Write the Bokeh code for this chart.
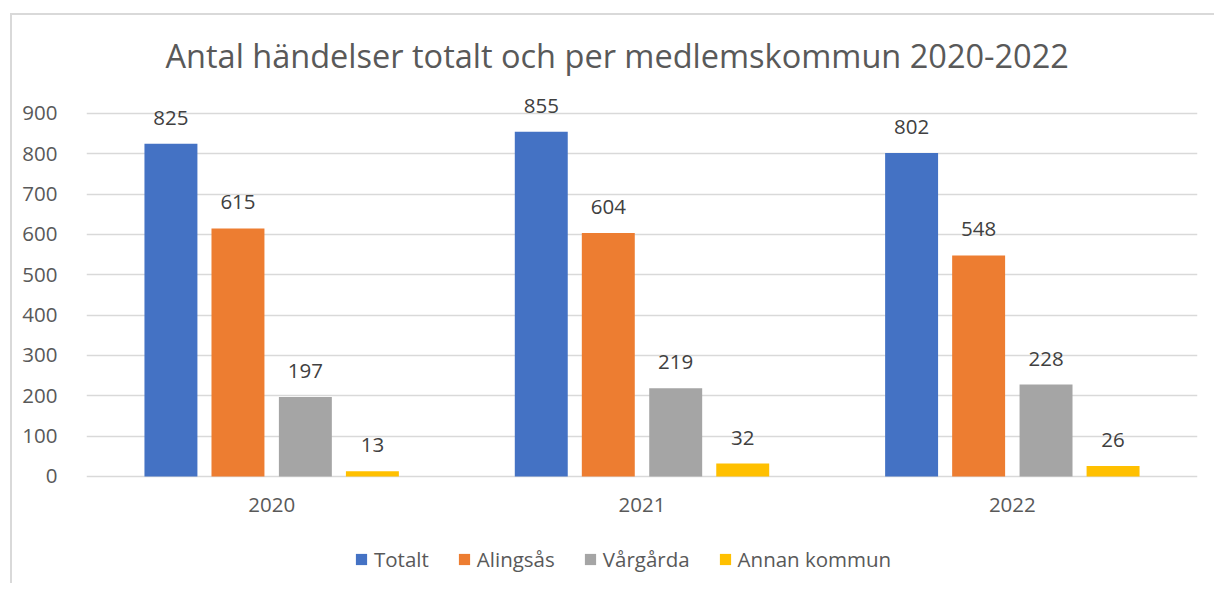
from bokeh.plotting import figure
from bokeh.models import ColumnDataSource, Range1d, FactorRange, FixedTicker, Legend, LegendItem
from bokeh.transform import dodge
from bokeh.core.properties import value
from bokeh.embed import file_html
from bokeh.resources import INLINE

years = ["2020", "2021", "2022"]
series = ["Totalt", "Alingsås", "Vårgårda", "Annan kommun"]
totalt = [825, 855, 802]
alingsas = [615, 604, 548]
vargarda = [197, 219, 228]
annan = [13, 32, 26]
y_ticks = [0, 100, 200, 300, 400, 500, 600, 700, 800, 900]

colors = ["#4472C4", "#ED7D31", "#A5A5A5", "#FFC000"]
offsets = [-0.272, -0.091, 0.091, 0.272]
FONT = "Open Sans"
FS = "20.5px"

src = ColumnDataSource(dict(
    year=years,
    s0=totalt, s1=alingsas, s2=vargarda, s3=annan,
    l0=[str(v) for v in totalt], l1=[str(v) for v in alingsas],
    l2=[str(v) for v in vargarda], l3=[str(v) for v in annan],
))

p = figure(
    width=1204, height=570,
    x_range=FactorRange(factors=years, range_padding=0.0),
    y_range=Range1d(-270.25, 959.5),
    output_backend="svg", toolbar_location=None,
    min_border_left=74, min_border_right=19, min_border_top=74, min_border_bottom=0,
    title="Antal händelser totalt och per medlemskommun 2020-2022",
)
p.margin = (13, 0, 0, 10)
p.styles = {"border-top": "2px solid #d9d9d9", "border-left": "2px solid #d9d9d9"}

p.title.align = "left"
p.title.offset = 79
p.title.text_font = FONT
p.title.text_font_size = "32.5px"
p.title.text_font_style = "normal"
p.title.text_color = "#595959"
p.title.standoff = 24

p.outline_line_color = None
p.background_fill_color = "white"
p.border_fill_color = "white"

p.xgrid.grid_line_color = None
p.ygrid.grid_line_color = "#d9d9d9"
p.ygrid.grid_line_width = 1.5
p.yaxis.ticker = FixedTicker(ticks=y_ticks)
p.xaxis.fixed_location = 0

for ax in (p.xaxis, p.yaxis):
    ax.axis_line_color = None
    ax.major_tick_line_color = None
    ax.minor_tick_line_color = None
    ax.major_label_text_font = FONT
    ax.major_label_text_font_size = FS
    ax.major_label_text_color = "#595959"
p.yaxis.major_label_standoff = 23
p.xaxis.major_label_standoff = 16

items = []
for i, name in enumerate(series):
    r = p.vbar(x=dodge("year", offsets[i], range=p.x_range), top=f"s{i}", width=0.143,
               source=src, fill_color=colors[i], line_color=None)
    p.text(x=dodge("year", offsets[i], range=p.x_range), y=f"s{i}", text=f"l{i}", source=src,
           text_font=value(FONT), text_font_size=FS, text_color="#404040",
           text_align="center", text_baseline="alphabetic", y_offset=-26)
    items.append(LegendItem(label=name, renderers=[r]))

legend = Legend(items=items, orientation="horizontal", location=(268, 12),
                glyph_width=14, glyph_height=14, label_standoff=6, spacing=28,
                label_text_font=FONT, label_text_font_size=FS, label_text_color="#595959",
                border_line_color=None, background_fill_alpha=0, padding=0, margin=0)
p.add_layout(legend)

open("out.html", "w").write(file_html(p, INLINE))
